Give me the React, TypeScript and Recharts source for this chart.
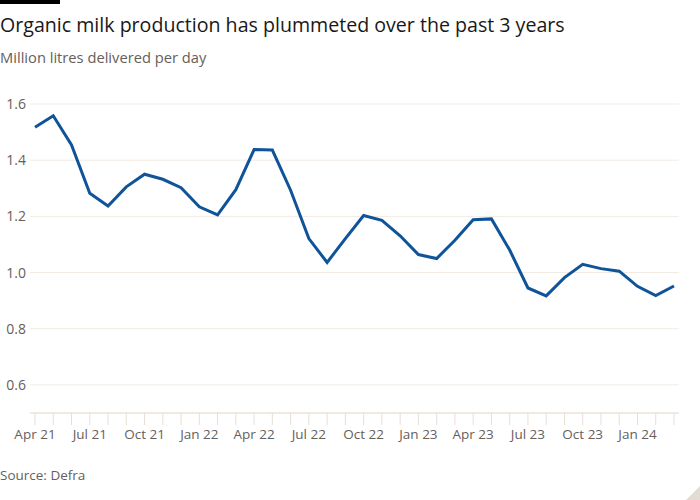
import React from 'react';
import { LineChart, Line, XAxis, YAxis, CartesianGrid } from 'recharts';

const months = [
  'Apr 21','May 21','Jun 21','Jul 21','Aug 21','Sep 21','Oct 21','Nov 21','Dec 21',
  'Jan 22','Feb 22','Mar 22','Apr 22','May 22','Jun 22','Jul 22','Aug 22','Sep 22','Oct 22','Nov 22','Dec 22',
  'Jan 23','Feb 23','Mar 23','Apr 23','May 23','Jun 23','Jul 23','Aug 23','Sep 23','Oct 23','Nov 23','Dec 23',
  'Jan 24','Feb 24','Mar 24',
];
const production = [
  1.517, 1.558, 1.454, 1.282, 1.237, 1.305, 1.350, 1.332, 1.302,
  1.234, 1.205, 1.295, 1.438, 1.436, 1.293, 1.121, 1.036, 1.121, 1.203, 1.186, 1.131,
  1.064, 1.050, 1.115, 1.188, 1.191, 1.080, 0.945, 0.917, 0.982, 1.029, 1.014, 1.005,
  0.951, 0.918, 0.952,
];
const labelledMonths = ['Apr 21','Jul 21','Oct 21','Jan 22','Apr 22','Jul 22','Oct 22','Jan 23','Apr 23','Jul 23','Oct 23','Jan 24'];
const yTicks = [0.6, 0.8, 1.0, 1.2, 1.4, 1.6];

const data = months.map((m, i) => ({ month: m, value: production[i] }));

const FONT = '"Open Sans", "Noto Sans", sans-serif';

export default function App() {
  return (
    <div style={{ position: 'absolute', left: 0, top: 0, width: 700, height: 500, background: '#fff', fontFamily: FONT, overflow: 'hidden' }}>
      <div style={{ position: 'absolute', left: 0, top: 0, width: 60, height: 4, background: '#000' }} />
      <div style={{ position: 'absolute', left: 0, top: 11, fontSize: 19.6, color: '#1a1817', whiteSpace: 'nowrap', lineHeight: '28px' }}>
        Organic milk production has plummeted over the past 3 years
      </div>
      <div style={{ position: 'absolute', left: 0, top: 46, fontSize: 14.7, color: '#66605c', whiteSpace: 'nowrap', lineHeight: '22px' }}>
        Million litres delivered per day
      </div>
      <div style={{ position: 'absolute', left: 0, top: 0 }}>
        <LineChart width={700} height={500} data={data} margin={{ top: 104, right: 21, bottom: 57, left: 0 }}>
          <CartesianGrid horizontal={true} vertical={false} stroke="#f2ebe4" strokeWidth={1} />
          <XAxis
            dataKey="month"
            interval={0}
            padding={{ left: 5, right: 5 }}
            height={30}
            axisLine={{ stroke: '#e6dfd8' }}
            tickLine={{ stroke: '#e6dfd8' }}
            tickSize={12}
            tickMargin={4}
            tick={{ fill: '#66605c', fontSize: 13.5, fontFamily: FONT }}
            tickFormatter={(v: string) => (labelledMonths.includes(v) ? v : '')}
          />
          <YAxis
            domain={[0.5, 1.6]}
            ticks={yTicks}
            width={30}
            axisLine={false}
            tickLine={false}
            tickSize={0}
            tickMargin={4}
            tick={{ fill: '#66605c', fontSize: 14, fontFamily: FONT }}
            tickFormatter={(v: number) => v.toFixed(1)}
          />
          <Line type="linear" dataKey="value" stroke="#0f5499" strokeWidth={3} dot={false} isAnimationActive={false} />
        </LineChart>
      </div>
      <div style={{ position: 'absolute', left: 0, top: 465, fontSize: 13.5, color: '#66605c', whiteSpace: 'nowrap', lineHeight: '20px' }}>
        Source: Defra
      </div>
      <svg style={{ position: 'absolute', left: 686, top: 486 }} width={14} height={14}>
        <polygon points="14,0 14,14 0,14" fill="#e3dcd5" />
      </svg>
    </div>
  );
}
